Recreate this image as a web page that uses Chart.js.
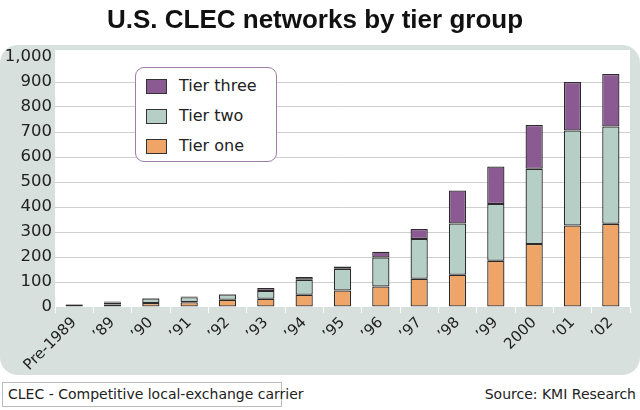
<!DOCTYPE html>
<html>
<head>
<meta charset="utf-8">
<script src="https://cdn.jsdelivr.net/npm/chart.js@4.4.0/dist/chart.umd.min.js"></script>
<style>
  body { margin: 0; background: #fff; }
  #wrap { position: relative; width: 640px; height: 410px; overflow: hidden; }
  #legenda {
    position: absolute; left: 135px; top: 67px; width: 140px; height: 93px;
    background: #fff; border: 1.5px solid #9d7ea6; border-radius: 9px;
    font: 16px "DejaVu Sans", sans-serif; color: #222;
  }
  .stavka { position: absolute; left: 10px; height: 16px; line-height: 16px; }
  .boja { display: inline-block; width: 21px; height: 15px; border: 1.5px solid #333; vertical-align: middle; margin-right: 12px; box-sizing: border-box; }
  #napomena {
    position: absolute; left: 2px; top: 382px; width: 280px; height: 25px; box-sizing: border-box;
    border: 1px solid #bbb; font: 14px "DejaVu Sans", sans-serif; color: #222;
    line-height: 23px; padding-left: 5px; white-space: nowrap;
  }
  #izvor {
    position: absolute; right: 4px; top: 386px; font: 14px "DejaVu Sans", sans-serif; color: #222; white-space: nowrap;
  }
</style>
</head>
<body>
<div id="wrap">
  <canvas id="myChart" width="640" height="375"></canvas>
  <div id="legenda"></div>
  <div id="napomena">CLEC - Competitive local-exchange carrier</div>
  <div id="izvor">Source: KMI Research</div>
</div>
<script>
const godine = ['Pre-1989', '’89', '’90', '’91', '’92', '’93', '’94', '’95', '’96', '’97', '’98', '’99', '2000', '’01', '’02'];
const tierOne = [9, 10, 16, 19, 29, 33, 49, 66, 82, 113, 129, 185, 252, 326, 333];
const tierTwo = [2, 8, 18, 20, 21, 31, 60, 87, 116, 159, 205, 227, 301, 380, 389];
const tierThree = [1, 4, 2, 3, 2, 12, 11, 9, 23, 40, 132, 150, 175, 194, 210];
const yTicks = [0, 100, 200, 300, 400, 500, 600, 700, 800, 900, 1000];

const nazivi = ['Tier one', 'Tier two', 'Tier three'];
const boje = ['#eea567', '#b6cfc6', '#8c5a92'];

// pozadina panela i bijela povrsina grafa
const pozadina = {
    id: 'pozadina',
    beforeDraw(chart) {
        const c = chart.ctx;
        const a = chart.chartArea;
        c.save();
        c.fillStyle = '#d7e0dc';
        c.beginPath();
        c.roundRect(0, 45, 640, 330, 18);
        c.fill();
        c.fillStyle = '#ffffff';
        c.fillRect(a.left, a.top - 7, a.right - a.left, a.bottom - a.top + 7);
        c.restore();
    }
};

const podaci = [tierOne, tierTwo, tierThree];
const datasets = podaci.map((d, i) => ({
    label: nazivi[i],
    data: d,
    backgroundColor: boje[i],
    borderColor: '#2a2a2a',
    borderWidth: 1.3,
    borderSkipped: false,
    barPercentage: 0.45,
    categoryPercentage: 1
}));

const ctx = document.getElementById('myChart');
const myChart = new Chart(ctx, {
    type: 'bar',
    data: { labels: godine, datasets: datasets },
    plugins: [pozadina],
    options: {
        responsive: false,
        animation: false,
        layout: { padding: { left: 0, right: 10, top: 0, bottom: 0 } },
        plugins: {
            legend: { display: false },
            tooltip: { enabled: false },
            title: {
                display: true,
                text: 'U.S. CLEC networks by tier group',
                color: '#111',
                font: { family: 'Liberation Sans', size: 26, weight: 'bold' },
                padding: { top: 5, bottom: 20.8 }
            }
        },
        scales: {
            x: {
                stacked: true,
                afterFit(s) { s.height = 68; },
                border: { display: false },
                grid: { drawOnChartArea: false, color: 'rgba(255,255,255,0.9)', tickLength: 6 },
                ticks: {
                    color: '#222', padding: 1, minRotation: 45, maxRotation: 45,
                    font: { family: 'DejaVu Sans', size: 15 }
                }
            },
            y: {
                stacked: true,
                min: 0, max: 1000,
                afterFit(s) { s.width = 55; },
                afterBuildTicks(s) { s.ticks = yTicks.map(v => ({ value: v })); },
                border: { display: false },
                grid: {
                    drawTicks: false,
                    color: ctx => ctx.tick && (ctx.tick.value === 0 || ctx.tick.value === 1000) ? 'rgba(0,0,0,0)' : '#cfcfcf'
                },
                ticks: {
                    color: '#222', padding: 3,
                    font: { family: 'DejaVu Sans', size: 16.5 },
                    callback: v => v.toLocaleString('en-US')
                }
            }
        }
    }
});

// legenda: Tier three gore, Tier one dolje
const legenda = document.getElementById('legenda');
[2, 1, 0].forEach((i, red) => {
    const el = document.createElement('div');
    el.className = 'stavka';
    el.style.top = (10 + red * 30) + 'px';
    el.innerHTML = '<span class="boja" style="background:' + boje[i] + '"></span>' + nazivi[i];
    legenda.appendChild(el);
});
</script>
</body>
</html>
